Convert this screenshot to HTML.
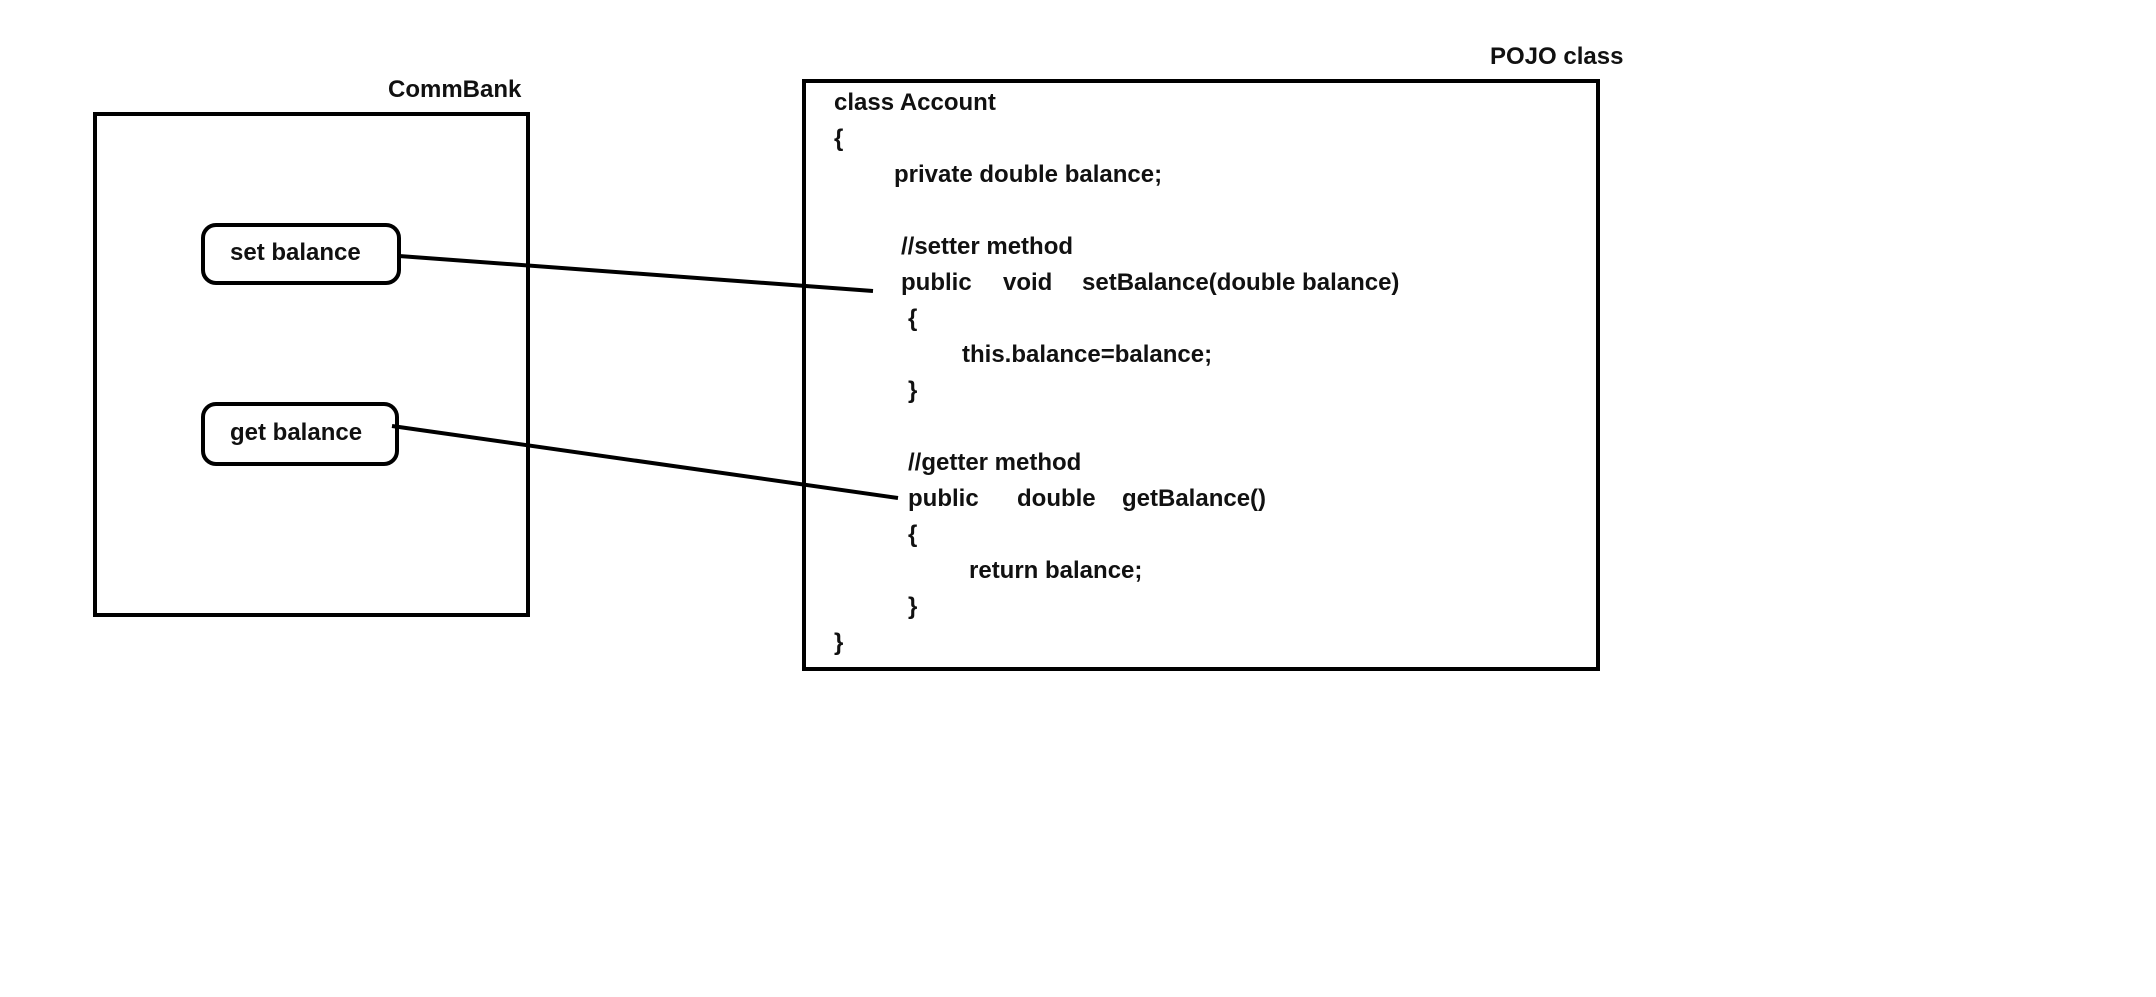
<!DOCTYPE html>
<html><head><meta charset="utf-8"><style>
body{margin:0;width:2156px;height:997px;background:#fff;position:relative;overflow:hidden;font-family:"Liberation Sans",sans-serif;font-weight:bold;font-size:24px;color:#111}
.t{position:absolute;white-space:pre;line-height:30px;transform:translateY(-15px)}
.box{position:absolute;border:4px solid #000;box-sizing:border-box}
</style></head><body>
<div class="box" style="left:93px;top:112px;width:437px;height:505px"></div>
<div class="box" style="left:802px;top:79px;width:798px;height:592px"></div>
<div class="box" style="left:201px;top:223px;width:200px;height:62px;border-radius:15px"></div>
<div class="box" style="left:201px;top:402px;width:198px;height:64px;border-radius:15px"></div>
<svg style="position:absolute;left:0;top:0" width="2156" height="997"><line x1="399" y1="256" x2="873" y2="291" stroke="#000" stroke-width="4"/><line x1="392" y1="426" x2="898" y2="498" stroke="#000" stroke-width="4"/></svg>
<div class="t" style="left:388px;top:90px">CommBank</div>
<div class="t" style="left:1490px;top:57px">POJO class</div>
<div class="t" style="left:230px;top:253px">set balance</div>
<div class="t" style="left:230px;top:433px">get balance</div>
<div class="t" style="left:834px;top:103px">class Account</div>
<div class="t" style="left:834px;top:139px">{</div>
<div class="t" style="left:894px;top:175px">private double balance;</div>
<div class="t" style="left:901px;top:247px">//setter method</div>
<div class="t" style="left:901px;top:283px">public</div>
<div class="t" style="left:1003px;top:283px">void</div>
<div class="t" style="left:1082px;top:283px">setBalance(double balance)</div>
<div class="t" style="left:908px;top:319px">{</div>
<div class="t" style="left:962px;top:355px">this.balance=balance;</div>
<div class="t" style="left:908px;top:391px">}</div>
<div class="t" style="left:908px;top:463px">//getter method</div>
<div class="t" style="left:908px;top:499px">public</div>
<div class="t" style="left:1017px;top:499px">double</div>
<div class="t" style="left:1122px;top:499px">getBalance()</div>
<div class="t" style="left:908px;top:535px">{</div>
<div class="t" style="left:969px;top:571px">return balance;</div>
<div class="t" style="left:908px;top:607px">}</div>
<div class="t" style="left:834px;top:643px">}</div>
</body></html>
